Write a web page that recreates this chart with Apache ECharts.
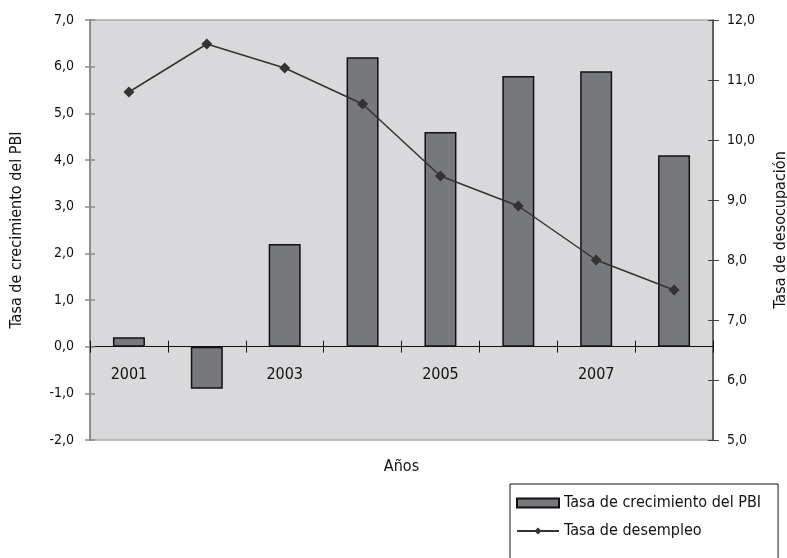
<!DOCTYPE html>
<html>
<head>
<meta charset="utf-8">
<script src="https://cdn.jsdelivr.net/npm/echarts@6/dist/echarts.min.js"></script>
<style>html,body{margin:0;padding:0;background:#fff;}#c{width:787px;height:558px;}</style>
</head>
<body>
<div id="c"></div>
<script>
var years = ['2001','2002','2003','2004','2005','2006','2007','2008'];
var pbi = [0.2, -0.9, 2.2, 6.2, 4.6, 5.8, 5.9, 4.1];
var desempleo = [10.8, 11.6, 11.2, 10.6, 9.4, 8.9, 8.0, 7.5];

var FONT = "'Liberation Sans Narrow', 'DejaVu Sans Condensed', 'Liberation Sans', sans-serif";
function fmt(v){ return v.toFixed(1).replace('.', ','); }

var chart = echarts.init(document.getElementById('c'));
chart.setOption({
  animation: false,
  textStyle: { fontFamily: FONT },
  grid: {
    left: 90, right: 74, top: 20, bottom: 118,
    outerBoundsMode: 'none',
    containLabel: false,
    show: true, backgroundColor: '#d9d9db', borderColor: '#aaaaaa', borderWidth: 1.5
  },
  legend: {
    left: 510, top: 484,
    height: 60,
    orient: 'vertical',
    backgroundColor: '#ffffff',
    borderColor: '#111', borderWidth: 1,
    padding: [11, 17, 30, 6],
    itemGap: 12,
    itemWidth: 42, itemHeight: 9,
    textStyle: { fontFamily: FONT, fontSize: 16, color: '#111' },
    data: [
      { name: 'Tasa de crecimiento del PBI', icon: 'rect' },
      { name: 'Tasa de desempleo' }
    ]
  },
  xAxis: [{
    type: 'category',
    data: years,
    name: 'Años',
    nameLocation: 'middle',
    nameGap: 19,
    nameTextStyle: { fontFamily: FONT, fontSize: 16, color: '#111' },
    axisLine: { onZero: true, onZeroAxisIndex: 0, lineStyle: { color: '#111', width: 1 } },
    axisTick: { show: true, interval: 0, alignWithLabel: false, length: 6, lineStyle: { color: '#111' } },
    axisLabel: { interval: 1, margin: -73, fontSize: 16, color: '#111', fontFamily: FONT },
    splitLine: { show: false }
  }, {
    type: 'category',
    data: years,
    position: 'bottom',
    axisLine: { onZero: true, onZeroAxisIndex: 0, show: true, lineStyle: { color: '#111', width: 1 } },
    axisTick: { show: true, inside: true, interval: 0, alignWithLabel: false, length: 6, lineStyle: { color: '#111' } },
    axisLabel: { show: false },
    splitLine: { show: false }
  }],
  yAxis: [{
    type: 'value',
    min: -2, max: 7, interval: 1,
    name: 'Tasa de crecimiento del PBI',
    nameLocation: 'middle',
    nameGap: 65,
    nameTextStyle: { fontFamily: FONT, fontSize: 16, color: '#111' },
    axisLine: { show: true, onZero: false, lineStyle: { color: '#8c8c8c', width: 2 } },
    axisTick: { show: true, length: 5, lineStyle: { color: '#8c8c8c', width: 1.5 } },
    axisLabel: { formatter: fmt, fontSize: 14, color: '#111', margin: 16, fontFamily: FONT },
    splitLine: { show: false }
  }, {
    type: 'value',
    min: 5, max: 12, interval: 1,
    name: 'Tasa de desocupación',
    nameLocation: 'middle',
    nameGap: 60,
    nameTextStyle: { fontFamily: FONT, fontSize: 16, color: '#111' },
    axisLine: { show: true, onZero: false, lineStyle: { color: '#444', width: 1.5 } },
    axisTick: { show: true, length: 6, lineStyle: { color: '#444', width: 1 } },
    axisLabel: { formatter: fmt, fontSize: 14, color: '#111', margin: 14, fontFamily: FONT },
    splitLine: { show: false }
  }, {
    type: 'value',
    position: 'left',
    min: -2, max: 7, interval: 1,
    axisLine: { show: false, onZero: false },
    axisTick: { show: true, inside: true, length: 5, lineStyle: { color: '#8c8c8c', width: 1.5 } },
    axisLabel: { show: false },
    splitLine: { show: false }
  }, {
    type: 'value',
    position: 'right',
    min: 5, max: 12, interval: 1,
    axisLine: { show: false, onZero: false },
    axisTick: { show: true, inside: true, length: 5, lineStyle: { color: '#444', width: 1 } },
    axisLabel: { show: false },
    splitLine: { show: false }
  }],
  series: [{
    name: 'Tasa de crecimiento del PBI',
    type: 'bar',
    data: pbi,
    xAxisIndex: 0, yAxisIndex: 0,
    barWidth: 32,
    itemStyle: { color: '#77787c', borderColor: '#111', borderWidth: 1.5 }
  }, {
    name: 'Tasa de desempleo',
    type: 'line',
    data: desempleo,
    xAxisIndex: 0, yAxisIndex: 1,
    symbol: 'diamond', symbolSize: 11,
    lineStyle: { color: '#333', width: 1.5 },
    itemStyle: { color: '#333' },
    z: 5
  }]
});
</script>
</body>
</html>
